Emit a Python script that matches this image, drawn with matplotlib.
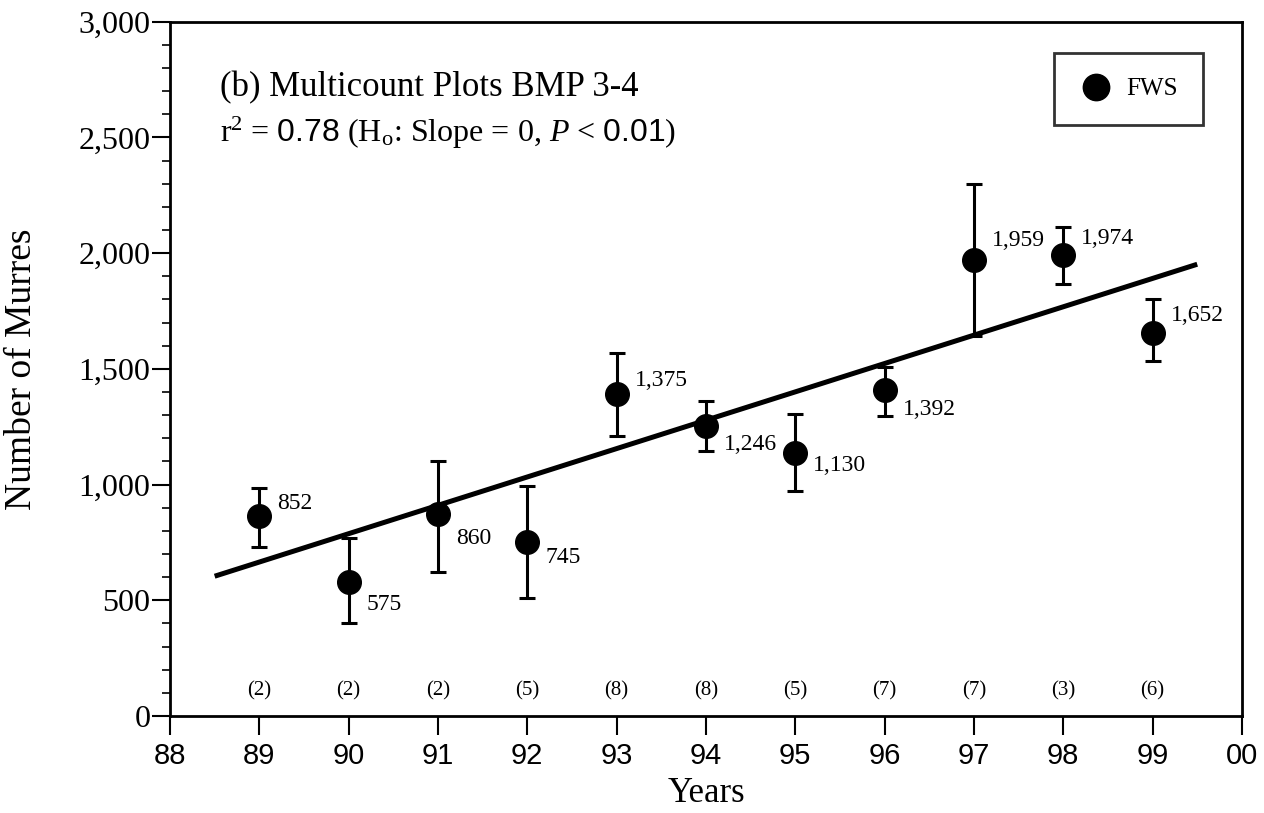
import numpy as np
import matplotlib.pyplot as plt
from matplotlib.lines import Line2D
from matplotlib.ticker import MultipleLocator, FuncFormatter

# Multicount plots BMP 3-4, FWS counts of murres
years = [89, 90, 91, 92, 93, 94, 95, 96, 97, 98, 99]
counts = [852, 575, 860, 745, 1375, 1246, 1130, 1392, 1959, 1974, 1652]
plotted = [865, 578, 874, 752, 1391, 1252, 1135, 1409, 1970, 1991, 1657]
err_hi = [987, 770, 1104, 996, 1570, 1361, 1304, 1510, 2300, 2113, 1800]
err_lo = [730, 404, 622, 509, 1209, 1143, 974, 1296, 1643, 1865, 1535]
n_plots = [2, 2, 2, 5, 8, 8, 5, 7, 7, 3, 6]
fit_years = [88.5, 99.5]
fit_counts = [604, 1952]
xtick_labels = ['88', '89', '90', '91', '92', '93', '94', '95', '96', '97', '98', '99', '00']

# vertical offset of value labels (points)
lab_dy = [9, -16, -18, -11, 10, -13, -9, -14, 14, 12, 12]

serif = 'Liberation Serif'
sans = 'Liberation Sans'
plt.rcParams['mathtext.fontset'] = 'custom'
plt.rcParams['mathtext.rm'] = 'Liberation Serif'
plt.rcParams['mathtext.sf'] = 'Liberation Sans'
plt.rcParams['mathtext.it'] = 'Liberation Serif:italic'

fig = plt.figure(figsize=(12.64, 8.13), dpi=100)
ax = fig.add_axes([0.1345, 0.1193, 0.848, 0.854])

plotted = np.array(plotted)
yerr = [plotted - np.array(err_lo), np.array(err_hi) - plotted]

ax.plot(fit_years, fit_counts, color='black', lw=3.6, solid_capstyle='butt', zorder=2)
ax.errorbar(years, plotted, yerr=yerr, fmt='o', color='black', ms=17,
            elinewidth=2.2, capsize=6, capthick=2.2, zorder=3)

for x, y, c, dy in zip(years, plotted, counts, lab_dy):
    ax.annotate(f'{c:,}', (x, y), xytext=(13, dy), textcoords='offset points',
                ha='left', va='center', fontsize=17, family=serif)

for x, n in zip(years, n_plots):
    ax.text(x, 110, f'({n})', ha='center', va='center', fontsize=15, family=serif)

ax.set_xlim(88, 100)
ax.set_ylim(0, 3000)
ax.set_xticks(range(88, 101))
ax.set_xticklabels(xtick_labels, family=sans, fontsize=21)
ax.yaxis.set_major_locator(MultipleLocator(500))
ax.yaxis.set_minor_locator(MultipleLocator(100))
ax.yaxis.set_major_formatter(FuncFormatter(lambda v, p: f'{int(v):,}'))
for t in ax.get_yticklabels():
    t.set_family(serif)
    t.set_fontsize(23)
ax.tick_params(axis='y', which='major', length=13, width=1.5, pad=1)
ax.tick_params(axis='y', which='minor', length=6, width=1.2)
ax.tick_params(axis='x', which='major', length=14, width=1.5, pad=5)
for sp in ax.spines.values():
    sp.set_linewidth(2)

ax.set_xlabel('Years', family=serif, fontsize=25, labelpad=5)
ax.set_ylabel('Number of Murres', family=serif, fontsize=27)
ax.yaxis.set_label_coords(-0.122, 0.5)

ax.text(0.047, 0.905, '(b) Multicount Plots BMP 3-4', transform=ax.transAxes,
        family=serif, fontsize=25, va='center')
ax.text(0.047, 0.84,
        r'r$^2$ = $\mathsf{0.78}$ (H$_\mathrm{o}$: Slope = 0, $\mathit{P}$ < $\mathsf{0.01}$)',
        transform=ax.transAxes, family=serif, fontsize=23, va='center')

handle = Line2D([], [], marker='o', color='black', ls='none', ms=19)
leg = ax.legend([handle], ['FWS'], loc='upper right', bbox_to_anchor=(0.9636, 0.955),
                frameon=True, fancybox=False, edgecolor='black',
                prop={'family': serif, 'size': 18},
                borderpad=1.0, handletextpad=0.5, handlelength=1.4, borderaxespad=0)
leg.get_frame().set_linewidth(2)

plt.savefig('out.png', dpi=100)
